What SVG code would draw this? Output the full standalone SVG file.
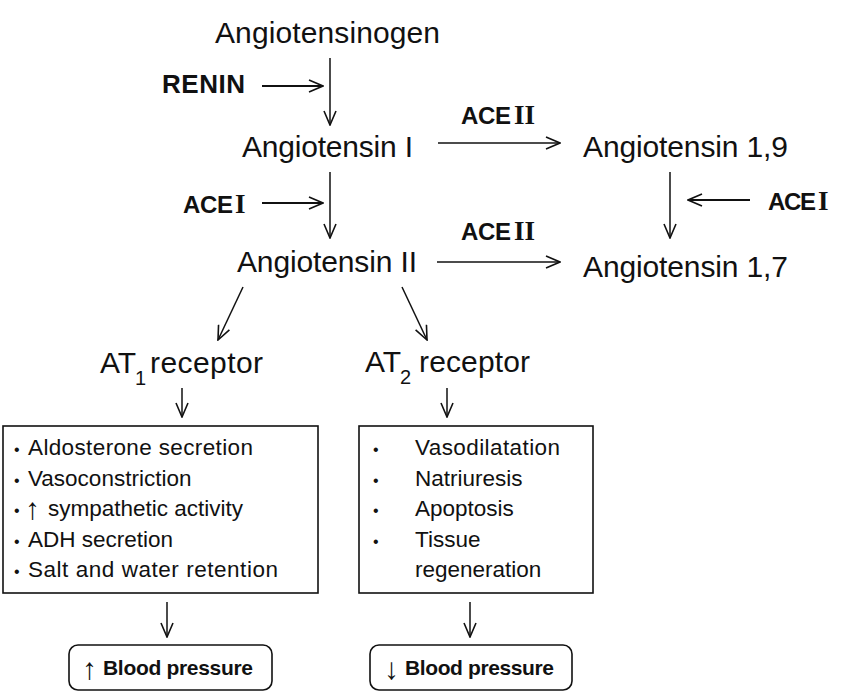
<svg xmlns="http://www.w3.org/2000/svg" width="850" height="692" viewBox="0 0 850 692">
<style>
.lbl{font-family:"Liberation Sans",Arial,sans-serif;font-size:30px;fill:#111}
.enz{font-family:"Liberation Sans",Arial,sans-serif;font-size:26px;font-weight:bold;fill:#111}
.ace{font-family:"Liberation Sans",Arial,sans-serif;font-size:24px;font-weight:bold;fill:#111}
.rom{font-family:"Liberation Serif","Times New Roman",serif;font-size:27px;font-weight:bold;fill:#111}
.sub{font-family:"Liberation Sans",Arial,sans-serif;font-size:20px;fill:#111}
.item{font-family:"Liberation Sans",Arial,sans-serif;font-size:22.5px;fill:#111}
.bul{font-family:"Liberation Sans",Arial,sans-serif;font-size:16px;fill:#111}
.bp{font-family:"Liberation Sans",Arial,sans-serif;font-size:21px;font-weight:bold;fill:#111}
.arr{font-family:"Liberation Sans","DejaVu Sans",sans-serif;font-size:30px;font-weight:normal;fill:#111}
.box{fill:#fff;stroke:#111;stroke-width:1.6}
.c{stroke:#111;stroke-width:1.5;fill:none;marker-end:url(#ah)}
.ct{stroke:#111;stroke-width:2.2;fill:none;marker-end:url(#ah)}
</style>
<defs>
<marker id="ah" markerUnits="userSpaceOnUse" viewBox="0 0 16 14" markerWidth="16" markerHeight="14" refX="15" refY="7" orient="auto">
<path d="M1,1 L15,7 L1,13" fill="none" stroke="#111" stroke-width="1.6"/>
</marker>
</defs>
<rect width="850" height="692" fill="#fff"/>

<g id="connectors">
<line class="ct" x1="262" y1="86" x2="323" y2="86"/>
<line class="c" x1="330" y1="58" x2="330" y2="125"/>
<line class="ct" x1="262" y1="203" x2="323" y2="203"/>
<line class="c" x1="330" y1="172" x2="330" y2="238"/>
<line class="c" x1="438" y1="143" x2="560" y2="143"/>
<line class="c" x1="437" y1="262" x2="560" y2="262"/>
<line class="c" x1="670" y1="172" x2="670" y2="238"/>
<line class="ct" x1="750" y1="200" x2="688" y2="200"/>
<line class="c" x1="243" y1="287" x2="218" y2="340"/>
<line class="c" x1="402" y1="287" x2="427" y2="340"/>
<line class="c" x1="182" y1="388" x2="182" y2="417"/>
<line class="c" x1="447" y1="388" x2="447" y2="417"/>
<line class="c" x1="167" y1="602" x2="167" y2="637"/>
<line class="c" x1="470" y1="602" x2="470" y2="637"/>
</g>

<g id="angiotensinogen"><text class="lbl" x="215" y="43" textLength="225">Angiotensinogen</text></g>
<g id="renin"><text class="enz" x="162" y="93" textLength="83">RENIN</text></g>
<g id="angiotensin1"><text class="lbl" x="242" y="157" textLength="171">Angiotensin I</text></g>
<g id="aceii-top"><text class="ace" x="461" y="124" textLength="50">ACE</text><text class="rom" x="514" y="124">II</text></g>
<g id="angiotensin19"><text class="lbl" x="583" y="157" textLength="205">Angiotensin 1,9</text></g>
<g id="acei-left"><text class="ace" x="183" y="213" textLength="50">ACE</text><text class="rom" x="235" y="213">I</text></g>
<g id="acei-right"><text class="ace" x="768" y="210" textLength="48">ACE</text><text class="rom" x="818" y="210">I</text></g>
<g id="aceii-bottom"><text class="ace" x="461" y="240" textLength="50">ACE</text><text class="rom" x="514" y="240">II</text></g>
<g id="angiotensin2"><text class="lbl" x="237" y="272" textLength="180">Angiotensin II</text></g>
<g id="angiotensin17"><text class="lbl" x="583" y="277" textLength="205">Angiotensin 1,7</text></g>

<g id="at1"><text class="lbl" x="100" y="373">AT</text><text class="sub" x="135" y="385">1</text><text class="lbl" x="150" y="373" textLength="113">receptor</text></g>
<g id="at2"><text class="lbl" x="365" y="372">AT</text><text class="sub" x="400" y="384">2</text><text class="lbl" x="419" y="372" textLength="111">receptor</text></g>

<g id="at1-effects">
<rect class="box" x="3" y="426" width="315" height="167"/>
<text class="bul" x="14" y="455">•</text><text class="item" x="28" y="455" textLength="225">Aldosterone secretion</text>
<text class="bul" x="14" y="486">•</text><text class="item" x="28" y="486">Vasoconstriction</text>
<text class="bul" x="14" y="516">•</text><text class="arr" x="25" y="519">↑</text><text class="item" x="48" y="516">sympathetic activity</text>
<text class="bul" x="14" y="547">•</text><text class="item" x="28" y="547">ADH secretion</text>
<text class="bul" x="14" y="577">•</text><text class="item" x="28" y="577" textLength="250">Salt and water retention</text>
</g>

<g id="at2-effects">
<rect class="box" x="359" y="426" width="234" height="167"/>
<text class="bul" x="373" y="455">•</text><text class="item" x="415" y="455" textLength="145">Vasodilatation</text>
<text class="bul" x="373" y="486">•</text><text class="item" x="415" y="486">Natriuresis</text>
<text class="bul" x="373" y="516">•</text><text class="item" x="415" y="516">Apoptosis</text>
<text class="bul" x="373" y="547">•</text><text class="item" x="415" y="547">Tissue</text>
<text class="item" x="415" y="577">regeneration</text>
</g>

<g id="bp-up">
<rect class="box" x="69" y="645" width="203" height="45" rx="9"/>
<text class="arr" x="82" y="679">↑</text><text class="bp" x="103" y="675" textLength="150">Blood pressure</text>
</g>
<g id="bp-down">
<rect class="box" x="370" y="645" width="202" height="45" rx="9"/>
<text class="arr" x="384" y="679">↓</text><text class="bp" x="405" y="675" textLength="149">Blood pressure</text>
</g>
</svg>
